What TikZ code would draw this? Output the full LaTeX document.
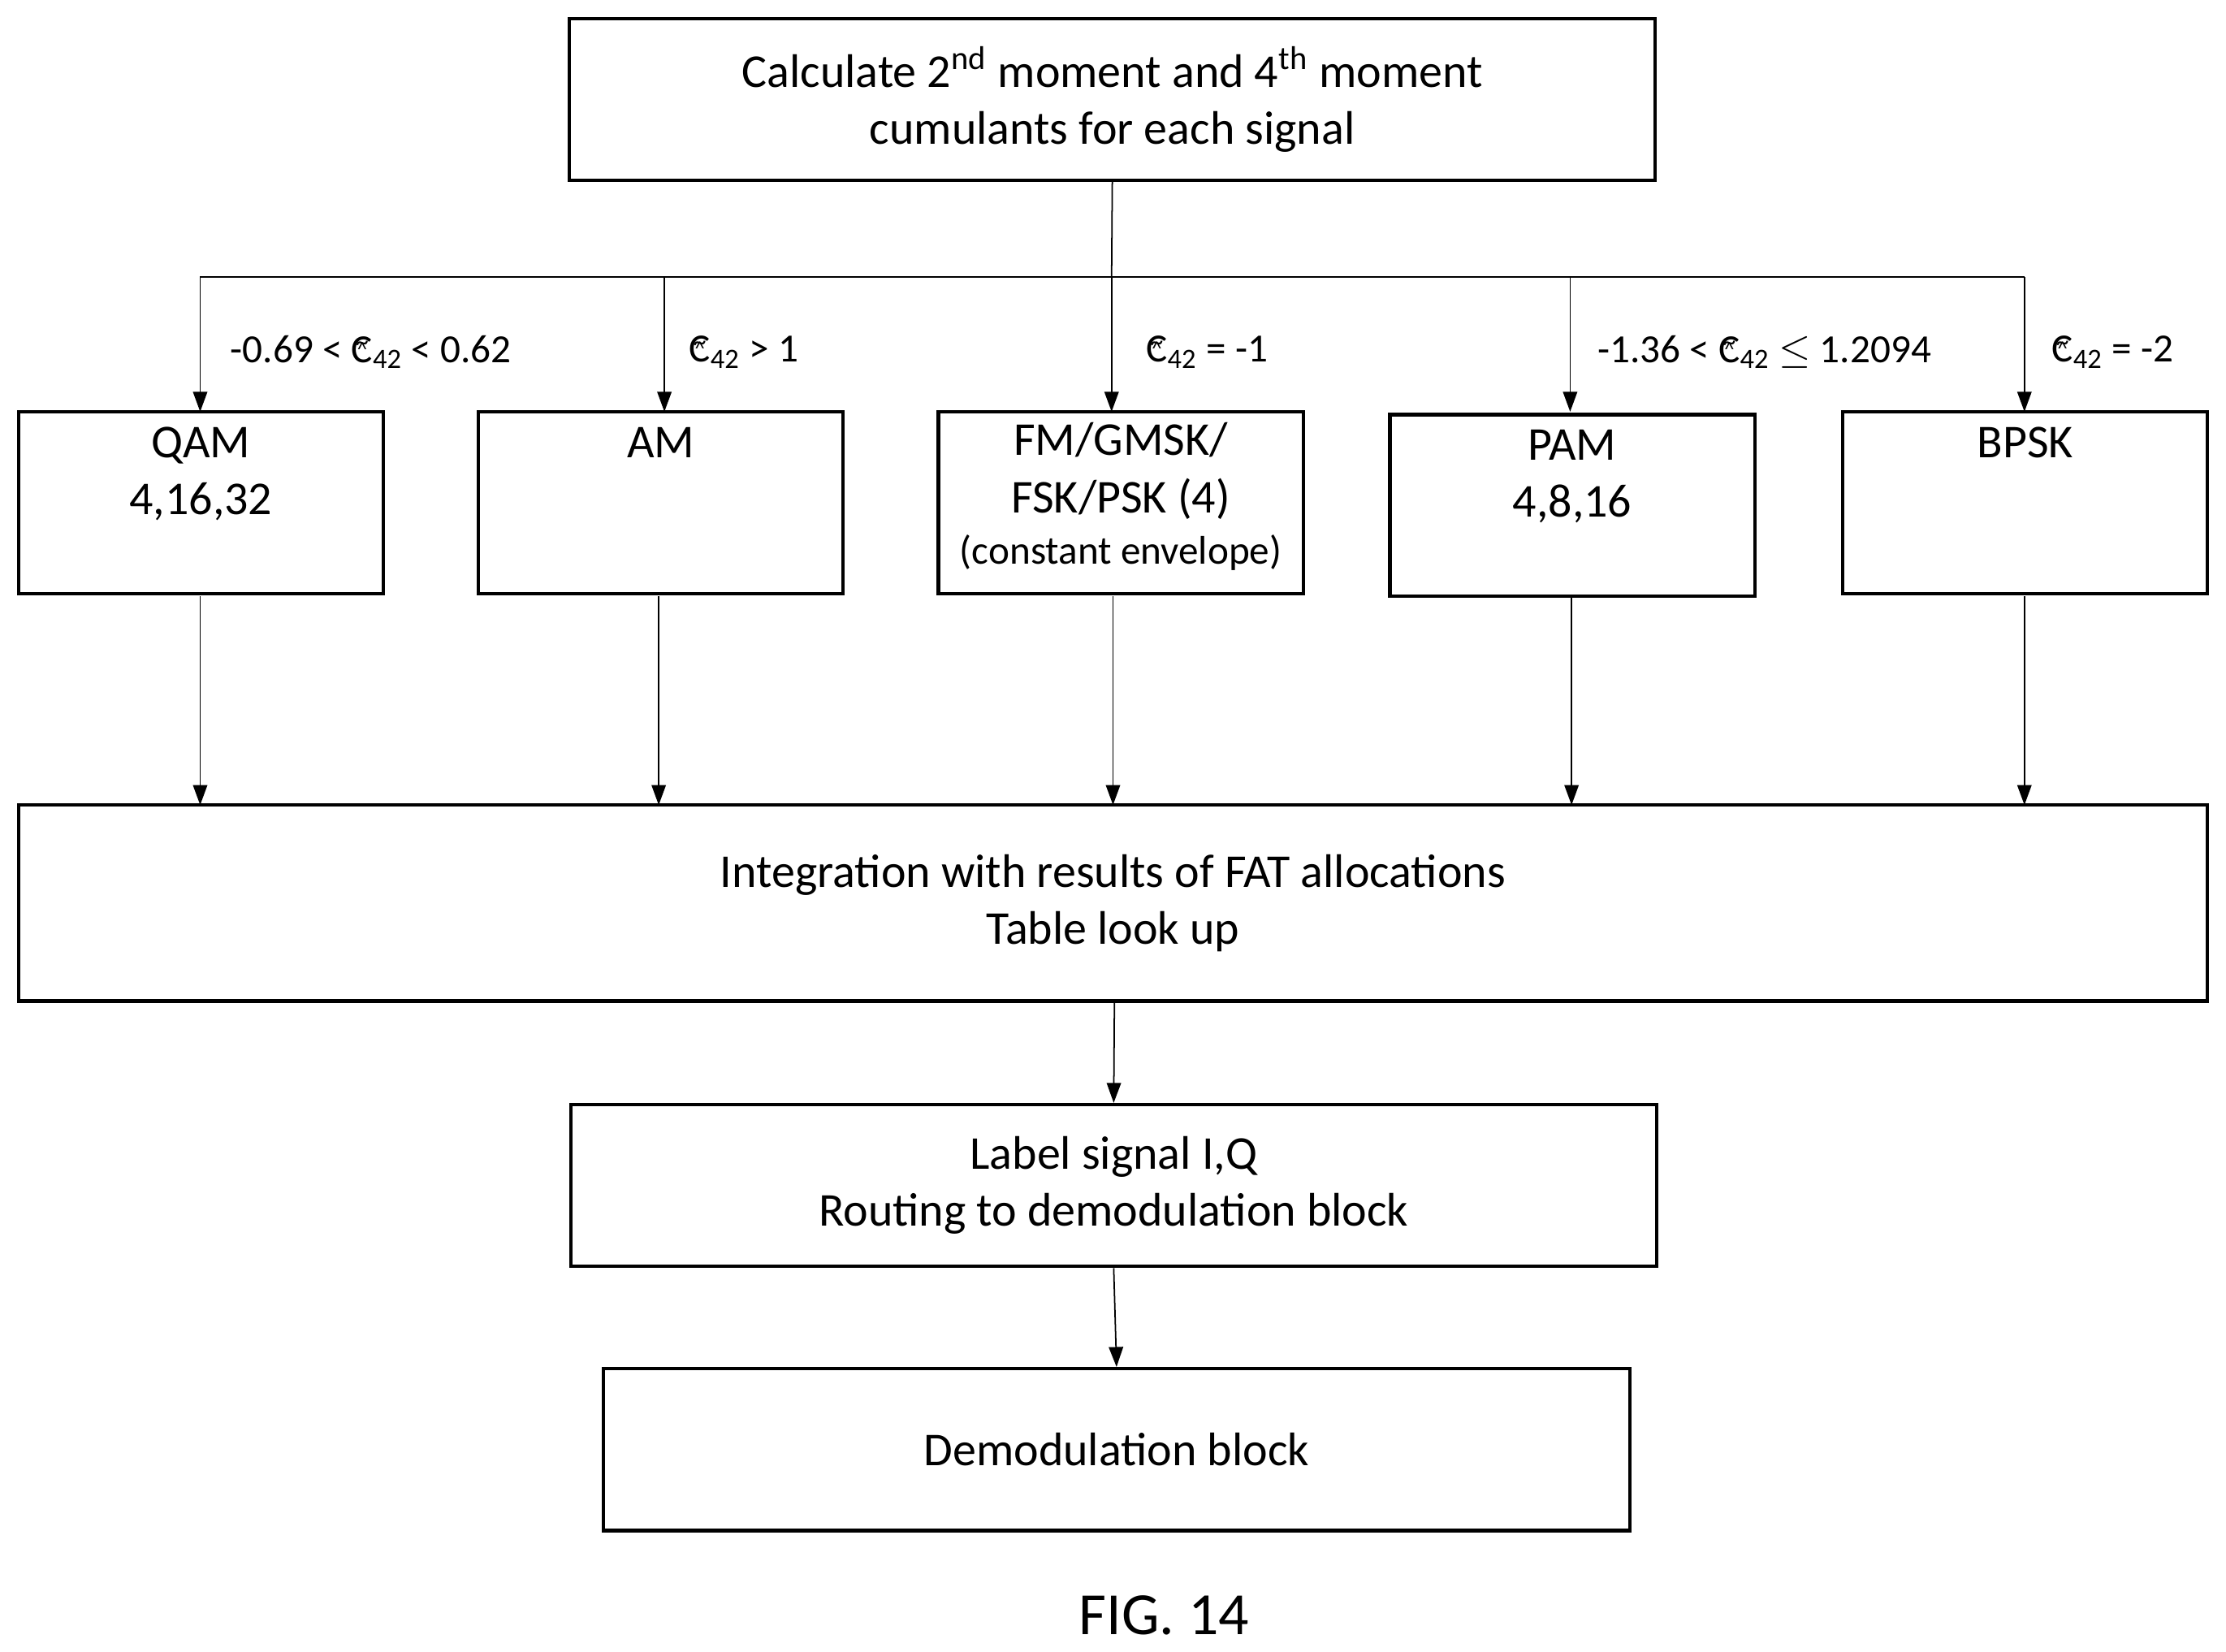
\documentclass[tikz,border=0pt]{standalone}
\usepackage{amsmath}
\usepackage{fontspec}
\setmainfont{Carlito}
\usetikzlibrary{arrows.meta,positioning}
\newcommand\Cft{\leavevmode\vbox{\offinterlineskip\halign{\hfil##\hfil\cr{\scriptsize\^{}}\cr\noalign{\kern-5pt}{\small\~{}}\cr\noalign{\kern-5pt}C\cr}}\textsubscript{42}}
\tikzset{
  blk/.style={draw, line width=1.2pt, inner sep=0pt, align=center, font=\fontsize{16.5}{20}\selectfont},
  arr/.style={-{Triangle[length=7pt,width=5pt]}, line width=0.5pt},
  cond/.style={anchor=west, font=\fontsize{14}{16}\selectfont, inner sep=2pt},
  head/.style={anchor=north, align=center, yshift=-5*0.01748cm, font=\fontsize{16.5}{20}\selectfont}
}
\begin{document}
\begin{tikzpicture}[x=0.01748cm, y=-0.01748cm]
\useasboundingbox (0,0) rectangle (1568,1163);
% top
\node[blk, minimum width=765*0.01748cm, minimum height=114*0.01748cm] (calc) at (783.5,70) {Calculate 2\textsuperscript{nd} moment and 4\textsuperscript{th} moment\\cumulants for each signal};
% classes
\node[blk, minimum width=257*0.01748cm, minimum height=128*0.01748cm] (qam) at (141.5,354) {};
\node[head] at (qam.north) {QAM\\4,16,32};
\node[blk, minimum width=257*0.01748cm, minimum height=128*0.01748cm] (am) at (465.5,354) {};
\node[head] at (am.north) {AM};
\node[blk, minimum width=257*0.01748cm, minimum height=128*0.01748cm] (fm) at (789.5,354) {};
\node[head, yshift=3*0.01748cm] at (fm.north) {FM/GMSK/\\FSK/PSK (4)\\[-2pt]{\fontsize{14}{16}\selectfont(constant envelope)}};
\node[blk, minimum width=257*0.01748cm, minimum height=128*0.01748cm] (pam) at (1107.5,356) {};
\node[head] at (pam.north) {PAM\\4,8,16};
\node[blk, minimum width=257*0.01748cm, minimum height=128*0.01748cm] (bpsk) at (1426.5,354) {};
\node[head] at (bpsk.north) {BPSK};
% lower blocks
\node[blk, minimum width=1542*0.01748cm, minimum height=138*0.01748cm] (integ) at (784,636) {Integration with results of FAT allocations\\Table look up};
\node[blk, minimum width=765*0.01748cm, minimum height=114*0.01748cm] (lbl) at (784.5,835) {Label signal I,Q\\Routing to demodulation block};
\node[blk, minimum width=723*0.01748cm, minimum height=114*0.01748cm] (dem) at (786.5,1021) {Demodulation block};
\node[font=\fontsize{21}{24}\selectfont] (fig) at (820,1138) {FIG. 14};
% bus
\coordinate (bus) at (783,195);
\coordinate (busL) at (141,195);
\coordinate (busR) at (1426,195);
\draw[line width=0.5pt] (calc.south) -- (bus);
\draw[line width=0.5pt] (busL) -- (busR);
\foreach \n/\x in {qam/141, am/468, fm/783, pam/1106, bpsk/1426}{
  \coordinate (t\n) at (\x,195);
  \draw[arr] (t\n) -- (\x,290);
}
\node[cond] at (158,248) {-0.69 < \Cft{} < 0.62};
\node[cond] at (481,248) {\Cft{} > 1};
\node[cond] at (803,248) {\Cft{} = -1};
\node[cond] at (1121,248) {-1.36 < \Cft{} $\leq$ 1.2094};
\node[cond] at (1441,248) {\Cft{} = -2};
% into integration
\foreach \n/\x in {qam/141, am/464, fm/784, pam/1107, bpsk/1426}{
  \draw[arr] (\x,420) -- (\x,567);
}
\draw[arr] (integ.south) ++(1,0) -- (lbl.north);
\draw[arr] (lbl.south) -- (dem.north);
\end{tikzpicture}
\end{document}
